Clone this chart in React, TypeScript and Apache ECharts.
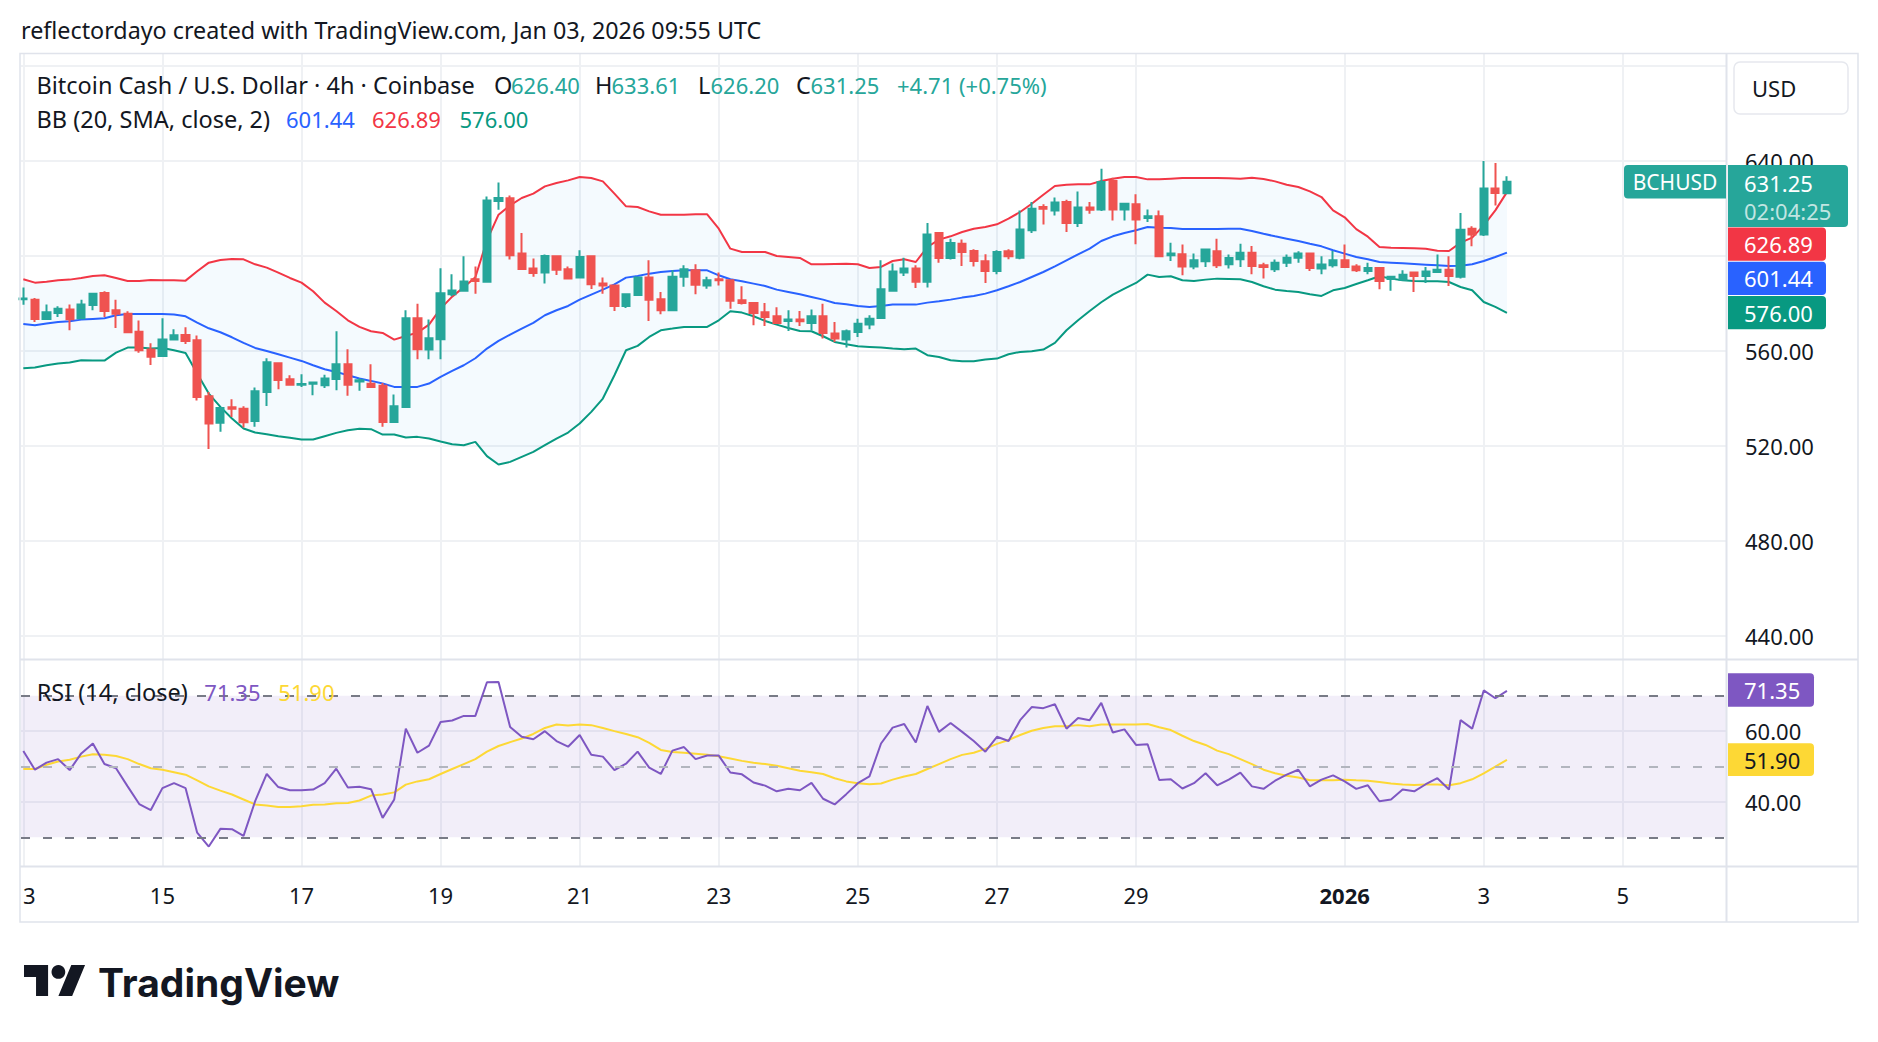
import React, { useEffect, useRef } from 'react';
import * as echarts from 'echarts';

// ---- 4h candles, Dec 13 00:00 UTC (index 0) .. Jan 3 08:00 UTC (index 128) ----
const OPEN = [
  581.8, 581.6, 573.5, 576.0, 577.5, 573.8, 579.4, 584.4, 577.1, 575.7,
  568.1, 560.6, 557.9, 564.8, 566.7, 564.5, 540.9, 529.7, 536.3, 535.6,
  530.5, 542.7, 554.8, 548.1, 545.8, 546.2, 545.5, 548.2, 554.4, 547.1,
  546.2, 545.3, 530.1, 536.4, 573.8, 560.6, 564.9, 583.9, 585.3, 590.2,
  589.1, 623.2, 624.3, 601.0, 594.7, 593.0, 599.9, 594.4, 590.9, 599.9,
  588.4, 587.6, 578.9, 583.6, 590.9, 581.8, 577.1, 591.2, 594.0, 587.6,
  590.2, 589.8, 581.3, 580.2, 576.3, 574.6, 572.6, 573.2, 571.8, 574.6,
  567.3, 564.8, 568.0, 571.1, 573.9, 585.3, 593.0, 594.7, 589.1, 609.7,
  599.2, 605.2, 602.1, 597.8, 593.7, 602.0, 599.3, 610.8, 620.6, 619.2,
  622.7, 613.9, 620.4, 619.6, 631.6, 619.6, 621.8, 616.0, 616.7, 600.3,
  600.7, 595.6, 597.8, 602.0, 596.5, 598.6, 601.4, 596.1, 594.4, 597.1,
  599.3, 601.0, 594.7, 596.1, 598.2, 595.6, 593.7, 594.9, 590.3, 590.0,
  593.0, 591.6, 593.3, 594.2, 591.2, 611.5, 609.1, 628.4, 626.4,
];
const HIGH = [
  586.7, 582.3, 579.6, 578.8, 579.6, 581.6, 584.3, 585.1, 581.6, 576.7,
  572.8, 563.2, 573.8, 569.1, 570.0, 566.5, 542.7, 536.0, 539.6, 536.7,
  544.6, 556.9, 554.9, 549.8, 550.2, 546.8, 550.0, 568.3, 560.7, 548.5,
  554.4, 546.5, 541.6, 577.1, 579.9, 573.2, 594.8, 592.3, 599.9, 595.6,
  625.1, 631.0, 625.5, 609.7, 598.9, 600.6, 600.3, 595.6, 602.4, 600.3,
  590.9, 587.7, 584.1, 591.0, 598.2, 584.8, 594.0, 596.1, 596.5, 591.2,
  593.0, 589.9, 587.2, 580.6, 580.2, 578.4, 577.1, 576.8, 577.4, 579.9,
  572.2, 569.0, 573.6, 575.0, 598.2, 596.8, 599.3, 596.1, 613.9, 610.1,
  607.3, 606.9, 602.8, 600.7, 602.4, 602.8, 619.2, 622.7, 621.8, 624.6,
  623.7, 627.2, 622.7, 636.8, 633.0, 622.1, 626.0, 619.6, 619.2, 605.6,
  604.8, 601.0, 603.1, 607.3, 600.6, 605.2, 604.2, 597.2, 598.5, 600.6,
  602.0, 601.4, 599.9, 602.1, 604.8, 596.5, 597.2, 595.0, 591.3, 594.0,
  593.1, 595.4, 600.6, 599.9, 618.1, 612.5, 640.0, 639.2, 633.61,
];
const LOW = [
  579.5, 572.2, 573.3, 574.3, 568.7, 573.5, 577.1, 574.3, 569.7, 567.6,
  559.2, 554.1, 557.9, 564.8, 562.9, 539.1, 518.7, 525.9, 532.2, 527.7,
  528.0, 536.8, 543.9, 545.3, 544.8, 541.3, 544.4, 543.4, 541.1, 543.2,
  544.6, 528.0, 530.0, 536.2, 556.5, 556.5, 556.5, 583.0, 585.2, 584.1,
  589.0, 619.5, 598.5, 594.4, 591.2, 588.4, 592.0, 590.4, 590.8, 586.1,
  584.1, 576.8, 578.1, 583.5, 572.6, 575.4, 577.0, 587.0, 583.9, 586.2,
  587.6, 577.8, 579.6, 570.8, 570.5, 571.7, 568.4, 570.5, 568.7, 565.2,
  563.8, 561.4, 565.9, 569.1, 573.8, 585.2, 591.6, 586.5, 586.7, 597.1,
  598.5, 595.8, 595.6, 588.6, 592.3, 598.6, 598.6, 609.7, 613.3, 617.1,
  610.1, 612.2, 617.8, 618.9, 615.0, 615.0, 604.9, 614.3, 599.8, 597.9,
  591.9, 594.4, 595.4, 594.9, 594.7, 595.4, 592.3, 590.5, 593.3, 595.4,
  597.1, 593.7, 592.3, 595.1, 595.3, 593.3, 592.3, 586.0, 585.3, 589.9,
  584.8, 588.6, 592.8, 587.4, 590.5, 604.1, 608.4, 621.3, 626.2,
];
const CLOSE = [
  582.1, 573.5, 576.3, 577.8, 573.3, 579.6, 584.1, 576.8, 575.7, 567.9,
  560.3, 557.5, 564.8, 566.6, 564.2, 540.6, 529.4, 535.9, 535.6, 530.0,
  543.0, 555.2, 547.8, 545.7, 546.1, 546.7, 548.4, 554.4, 545.7, 547.6,
  544.8, 530.1, 536.7, 573.8, 560.7, 565.3, 584.3, 585.5, 589.3, 589.5,
  623.4, 624.4, 600.3, 594.5, 592.8, 600.0, 594.2, 590.5, 599.6, 588.1,
  587.6, 578.9, 583.9, 590.9, 581.6, 577.1, 591.2, 594.4, 587.9, 589.8,
  589.8, 581.1, 580.2, 576.0, 574.3, 571.8, 573.2, 572.5, 574.6, 567.6,
  565.2, 568.3, 571.5, 573.6, 586.0, 593.5, 594.7, 589.1, 609.1, 599.2,
  605.5, 601.7, 597.9, 593.7, 601.7, 599.9, 611.2, 619.9, 619.9, 622.5,
  613.9, 620.4, 619.5, 631.2, 619.6, 622.0, 615.4, 616.7, 599.9, 601.0,
  595.6, 598.2, 602.7, 596.1, 599.2, 601.4, 595.8, 595.4, 597.2, 599.3,
  601.0, 594.9, 596.4, 598.2, 595.4, 594.0, 594.9, 589.5, 591.2, 592.1,
  591.6, 593.5, 594.2, 591.6, 611.1, 609.1, 628.4, 626.54, 631.25,
];

// ---- Bollinger Bands (20, SMA, close, 2) ----
const BB_UPPER = [
  590.18, 588.77, 589.19, 589.75, 590.04, 590.74, 591.58, 591.86, 590.74, 589.47,
  589.47, 589.89, 589.75, 589.75, 589.61, 593.54, 597.19, 598.32, 598.74, 598.6,
  596.49, 595.09, 592.98, 590.74, 588.77, 585.12, 580.35, 576.84, 572.91, 570.11,
  568.28, 567.58, 564.77, 566.32, 567.72, 571.09, 577.82, 582.88, 586.81, 591.02,
  606.6, 617.4, 621.33, 624.42, 626.25, 629.33, 630.74, 631.86, 633.26, 632.84,
  631.44, 626.25, 620.91, 620.63, 618.81, 617.4, 617.4, 617.4, 617.54, 617.54,
  611.51, 603.09, 601.68, 601.68, 601.68, 600.0, 599.58, 599.16, 596.49, 596.49,
  596.63, 596.77, 596.49, 594.95, 595.37, 597.89, 598.6, 597.47, 603.79, 606.88,
  608.28, 610.11, 611.51, 612.21, 613.33, 615.72, 618.53, 622.03, 625.82, 629.47,
  630.03, 630.18, 630.18, 631.58, 632.56, 633.26, 633.26, 632.28, 632.28, 632.56,
  632.84, 632.84, 632.84, 632.84, 632.7, 632.56, 632.98, 632.42, 631.44, 630.03,
  629.05, 627.23, 624.84, 619.23, 616.3, 611.3, 608.14, 603.79, 603.51, 603.37,
  603.23, 603.09, 602.25, 602.11, 605.61, 607.72, 612.91, 619.23, 626.89,
];
const BB_MID = [
  571.37, 570.81, 571.51, 572.21, 572.49, 573.19, 573.47, 573.75, 575.02, 575.58,
  575.58, 575.58, 575.58, 575.3, 574.6, 571.93, 569.54, 567.86, 565.75, 563.37,
  561.26, 560.0, 558.6, 557.19, 555.79, 553.97, 552.28, 551.16, 549.75, 548.35,
  547.37, 546.25, 544.84, 544.84, 544.84, 546.25, 549.05, 551.58, 553.97, 556.91,
  560.98, 564.21, 566.88, 569.4, 571.79, 575.02, 577.12, 578.95, 581.61, 583.72,
  585.82, 588.07, 590.88, 591.58, 592.56, 593.26, 593.68, 593.96, 593.96, 593.96,
  591.86, 590.18, 589.33, 588.35, 587.37, 585.82, 584.84, 583.86, 582.74, 581.61,
  580.21, 579.65, 578.95, 578.53, 578.95, 579.51, 579.51, 579.51, 580.35, 580.91,
  581.61, 582.46, 583.16, 584.14, 585.54, 587.23, 589.05, 591.16, 593.26, 595.65,
  598.18, 600.7, 603.09, 606.32, 608.28, 609.68, 610.81, 612.21, 611.93, 611.79,
  611.37, 611.37, 611.37, 611.37, 611.51, 611.51, 610.53, 609.4, 608.28, 607.3,
  606.32, 605.19, 604.07, 602.39, 600.98, 599.58, 598.6, 597.47, 597.19, 596.91,
  596.63, 596.35, 596.07, 595.79, 595.93, 596.49, 597.89, 599.58, 601.44,
];
const BB_LOWER = [
  552.7, 552.98, 553.97, 554.67, 555.09, 556.07, 555.93, 555.93, 559.3, 561.4,
  561.4, 560.98, 561.26, 560.28, 559.16, 550.46, 542.04, 536.42, 531.51, 527.3,
  525.61, 524.91, 524.07, 523.37, 522.67, 522.67, 524.07, 525.47, 526.6, 527.16,
  527.02, 524.77, 524.77, 523.51, 523.79, 523.09, 521.82, 520.7, 520.28, 521.68,
  515.65, 512.14, 513.26, 515.37, 517.47, 520.28, 523.09, 525.61, 529.4, 534.32,
  539.93, 549.75, 560.28, 562.11, 565.89, 568.7, 569.4, 570.11, 570.11, 570.11,
  572.91, 576.7, 576.14, 574.6, 572.63, 571.09, 569.68, 568.42, 568.28, 566.18,
  563.79, 562.81, 561.97, 561.68, 561.4, 560.98, 560.7, 560.98, 558.18, 557.47,
  556.07, 555.65, 555.65, 556.35, 556.77, 558.6, 559.58, 559.86, 560.56, 563.37,
  568.7, 572.91, 576.84, 580.49, 583.72, 586.25, 588.63, 592.14, 591.16, 591.44,
  589.75, 589.47, 590.04, 590.46, 590.32, 590.18, 589.05, 587.23, 585.82, 585.26,
  584.84, 583.86, 583.16, 585.54, 586.53, 588.2, 589.75, 591.44, 590.46, 589.75,
  589.47, 589.33, 589.33, 589.05, 586.95, 585.54, 580.63, 578.53, 576.0,
];

// ---- RSI (14, close) and its moving average ----
const RSI = [
  54.4, 49.1, 51.1, 52.1, 49.0, 53.7, 56.5, 50.7, 49.5, 44.4,
  39.4, 37.7, 43.9, 45.3, 43.9, 31.3, 27.4, 32.4, 32.3, 30.4,
  40.2, 47.9, 44.2, 43.3, 43.3, 43.5, 45.3, 49.4, 44.1, 44.3,
  43.6, 35.5, 40.7, 60.7, 53.9, 55.9, 62.6, 63.0, 64.3, 64.3,
  73.8, 73.9, 61.2, 58.4, 57.7, 60.0, 57.2, 55.6, 58.9, 53.3,
  52.8, 49.0, 50.8, 54.2, 49.7, 47.9, 54.5, 55.5, 52.1, 53.1,
  53.1, 48.3, 47.8, 45.5, 44.6, 43.0, 43.7, 43.3, 45.4, 40.9,
  39.3, 42.2, 45.3, 47.2, 56.5, 61.0, 62.0, 56.8, 67.1, 59.8,
  62.3, 59.8, 57.2, 54.2, 58.4, 57.2, 63.1, 66.8, 66.5, 67.6,
  60.7, 63.7, 63.1, 68.0, 59.6, 60.5, 56.1, 56.3, 46.2, 46.4,
  43.8, 45.3, 48.1, 44.7, 46.3, 48.3, 44.4, 43.7, 46.0, 47.7,
  49.1, 44.4, 46.3, 47.5, 45.8, 43.7, 44.7, 40.2, 40.7, 43.5,
  43.0, 45.0, 46.7, 43.5, 63.1, 60.7, 71.5, 69.3, 71.35,
];
const RSI_MA = [
  49.3, 49.3, 50.5, 51.4, 51.9, 52.8, 53.5, 53.3, 53.0, 52.1,
  50.7, 49.5, 49.1, 48.4, 47.7, 46.1, 44.4, 43.2, 42.1, 40.7,
  39.3, 39.0, 38.6, 38.6, 38.8, 39.2, 39.3, 39.6, 39.7, 40.4,
  41.8, 42.1, 42.7, 44.9, 45.8, 46.4, 47.9, 49.3, 50.7, 52.1,
  54.2, 55.8, 56.9, 57.9, 59.2, 60.9, 61.9, 61.6, 61.9, 61.7,
  60.9, 60.0, 59.2, 58.3, 56.7, 54.7, 54.1, 53.9, 53.6, 53.3,
  52.9, 52.3, 51.6, 51.1, 50.7, 50.2, 49.5, 48.8, 48.4, 47.9,
  46.7, 45.8, 45.3, 45.0, 45.2, 46.3, 47.2, 47.9, 49.3, 50.7,
  52.1, 53.3, 53.9, 55.0, 56.4, 57.5, 58.9, 60.1, 60.9, 61.4,
  61.4, 61.7, 61.4, 61.9, 61.9, 61.9, 61.9, 62.0, 61.1, 60.3,
  58.7, 57.2, 56.1, 54.5, 53.5, 52.1, 50.7, 49.1, 48.1, 47.4,
  46.9, 46.1, 46.1, 46.1, 46.3, 46.1, 46.0, 45.6, 45.2, 44.9,
  44.8, 44.9, 44.9, 44.7, 45.3, 46.4, 48.1, 50.0, 51.9,
];

// ---- axes ----
const TIME_TICKS = [0, 12, 24, 36, 48, 60, 72, 84, 96, 114, 126, 138];
const TIME_LABELS = ['13', '15', '17', '19', '21', '23', '25', '27', '29', '2026', '3', '5'];
const PRICE_GRID = [440, 480, 520, 560, 600, 640, 680];
const PRICE_LABELS = [440, 480, 520, 560, 640];
const RSI_GRID = [40, 60];
const RSI_LEVELS = [70, 50, 30];

const FONT = "'Noto Sans', sans-serif";
const TEXT = '#131722';
const GRID_C = '#eff1f4';
const SEP_C = '#e0e3eb';
const UP = '#26a69a';
const DOWN = '#ef5350';
const X_MIN = -0.2;
const X_MAX = 146.9;
const LBL = 23.5; // size of word labels in the legends

const TV_LOGO = 'M14 22H7V11H0V4h14v18zM28 22h-8l7.5-18h8L28 22z';

function txt(text: string, x: number, y: number, fill: string, extra: any = {}) {
  return {
    type: 'text',
    x,
    y,
    z: 100,
    silent: true,
    style: {
      text,
      fill,
      fontSize: 22,
      fontFamily: FONT,
      verticalAlign: 'middle',
      align: 'left',
      ...extra,
    },
  };
}

function box(x: number, y: number, w: number, h: number, fill: string, r: any = [0, 4, 4, 0]) {
  return {
    type: 'rect',
    z: 99,
    silent: true,
    shape: { x, y, width: w, height: h, r },
    style: { fill },
  };
}

export default function App() {
  const ref = useRef<HTMLDivElement>(null);

  useEffect(() => {
    if (!ref.current) return;
    echarts.graphic.registerShape('tvlogo', echarts.graphic.extendPath(TV_LOGO, {}));
    const chart = echarts.init(ref.current, null, { renderer: 'svg' });

    const idx = (arr: number[]) => arr.map((v, i) => [i, v]);
    const candles = OPEN.map((o, i) => [i, o, CLOSE[i], LOW[i], HIGH[i]]);
    const N = BB_UPPER.length;

    const labelFmt = (v: number) => {
      const k = TIME_TICKS.indexOf(Math.round(v));
      if (k < 0) return '';
      const s = TIME_LABELS[k];
      if (s === '2026') return '{b|2026}';
      if (k === 0) return '{c|3}';
      return s;
    };

    const option: any = {
      animation: false,
      backgroundColor: '#ffffff',
      grid: [
        { left: 21, right: 152, top: 54, height: 605 },
        { left: 21, right: 152, top: 660, height: 206 },
      ],
      xAxis: [
        {
          type: 'value',
          gridIndex: 0,
          min: X_MIN,
          max: X_MAX,
          axisLine: { show: false },
          axisTick: { show: false, customValues: TIME_TICKS },
          axisLabel: { show: false },
          splitLine: { show: true, lineStyle: { color: GRID_C, width: 2 } },
        },
        {
          type: 'value',
          gridIndex: 1,
          min: X_MIN,
          max: X_MAX,
          axisLine: { show: false },
          axisTick: { show: false, customValues: TIME_TICKS },
          axisLabel: {
            show: true,
            customValues: TIME_TICKS,
            formatter: labelFmt,
            margin: 18,
            fontSize: 22,
            color: TEXT,
            fontFamily: FONT,
            rich: {
              b: { fontSize: 22, fontWeight: 'bold', color: TEXT, fontFamily: FONT },
              c: { fontSize: 22, color: TEXT, fontFamily: FONT, padding: [0, 0, 0, 12] },
            },
          },
          splitLine: { show: true, lineStyle: { color: GRID_C, width: 2 } },
        },
      ],
      yAxis: [
        {
          type: 'value',
          gridIndex: 0,
          position: 'right',
          min: 430.2,
          max: 685.1,
          axisLine: { show: false },
          axisTick: { show: false, customValues: PRICE_GRID },
          axisLabel: {
            customValues: PRICE_LABELS,
            formatter: (v: number) => v.toFixed(2),
            align: 'left',
            margin: 19,
            fontSize: 22,
            color: TEXT,
            fontFamily: FONT,
          },
          splitLine: { show: true, lineStyle: { color: GRID_C, width: 2 } },
        },
        {
          type: 'value',
          gridIndex: 1,
          position: 'right',
          min: 21.9,
          max: 80.1,
          axisLine: { show: false },
          axisTick: { show: false, customValues: RSI_GRID },
          axisLabel: {
            customValues: RSI_GRID,
            formatter: (v: number) => v.toFixed(2),
            align: 'left',
            margin: 19,
            fontSize: 22,
            color: TEXT,
            fontFamily: FONT,
          },
          splitLine: { show: true, lineStyle: { color: GRID_C, width: 2 } },
        },
      ],
      series: [
        {
          type: 'custom',
          name: 'BB band',
          xAxisIndex: 0,
          yAxisIndex: 0,
          silent: true,
          z: 1,
          data: idx(BB_UPPER),
          encode: { x: 0, y: 1 },
          renderItem: (params: any, api: any) => {
            if (params.dataIndex !== 0) return null;
            const pts: number[][] = [];
            for (let i = 0; i < N; i++) pts.push(api.coord([i, BB_UPPER[i]]));
            for (let i = N - 1; i >= 0; i--) pts.push(api.coord([i, BB_LOWER[i]]));
            return {
              type: 'polygon',
              shape: { points: pts },
              style: { fill: 'rgba(33,150,243,0.05)' },
            };
          },
        },
        {
          type: 'line', name: 'BB upper', xAxisIndex: 0, yAxisIndex: 0, z: 3,
          data: idx(BB_UPPER), symbol: 'none', silent: true,
          lineStyle: { color: '#f23645', width: 2 },
        },
        {
          type: 'line', name: 'BB basis', xAxisIndex: 0, yAxisIndex: 0, z: 3,
          data: idx(BB_MID), symbol: 'none', silent: true,
          lineStyle: { color: '#2962ff', width: 2 },
        },
        {
          type: 'line', name: 'BB lower', xAxisIndex: 0, yAxisIndex: 0, z: 3,
          data: idx(BB_LOWER), symbol: 'none', silent: true,
          lineStyle: { color: '#089981', width: 2 },
        },
        {
          type: 'candlestick',
          name: 'BCHUSD',
          xAxisIndex: 0,
          yAxisIndex: 0,
          z: 5,
          data: candles,
          encode: { x: 0, y: [1, 2, 3, 4] },
          barWidth: 7.7,
          silent: true,
          itemStyle: {
            color: UP,
            color0: DOWN,
            borderColor: UP,
            borderColor0: DOWN,
            borderWidth: 2,
          },
        },
        {
          type: 'line',
          name: 'RSI',
          xAxisIndex: 1,
          yAxisIndex: 1,
          z: 4,
          data: idx(RSI),
          symbol: 'none',
          silent: true,
          lineStyle: { color: '#7e57c2', width: 2 },
          markArea: {
            silent: true,
            itemStyle: { color: 'rgba(126,87,194,0.1)' },
            data: [[{ xAxis: X_MIN, yAxis: 30 }, { xAxis: X_MAX, yAxis: 70 }]],
          },
          markLine: {
            silent: true,
            symbol: ['none', 'none'],
            label: { show: false },
            lineStyle: { color: '#787b86', width: 2, type: [9, 13] },
            data: RSI_LEVELS.map((v) =>
              v === 50
                ? { yAxis: v, lineStyle: { color: '#b2b5be', width: 2, type: [9, 13] } }
                : { yAxis: v }
            ),
          },
        },
        {
          type: 'line',
          name: 'RSI MA',
          xAxisIndex: 1,
          yAxisIndex: 1,
          z: 3,
          data: idx(RSI_MA),
          symbol: 'none',
          silent: true,
          lineStyle: { color: '#fdd835', width: 2 },
        },
      ],
      graphic: [
        // title
        txt('reflectordayo created with TradingView.com, Jan 03, 2026 09:55 UTC', 21, 30, TEXT, { fontSize: 23.3 }),
        // frame and separators
        {
          type: 'rect', z: 98, silent: true,
          shape: { x: 20, y: 53.5, width: 1838, height: 868.5 },
          style: { fill: 'none', stroke: SEP_C, lineWidth: 1.5 },
        },
        {
          type: 'line', z: 98, silent: true,
          shape: { x1: 1726.5, y1: 53.5, x2: 1726.5, y2: 922 },
          style: { stroke: SEP_C, lineWidth: 2 },
        },
        {
          type: 'line', z: 98, silent: true,
          shape: { x1: 20, y1: 659.5, x2: 1858, y2: 659.5 },
          style: { stroke: SEP_C, lineWidth: 2 },
        },
        {
          type: 'line', z: 98, silent: true,
          shape: { x1: 20, y1: 866.5, x2: 1858, y2: 866.5 },
          style: { stroke: SEP_C, lineWidth: 2 },
        },
        // legend line 1
        txt('Bitcoin Cash / U.S. Dollar · 4h · Coinbase', 36.5, 85, TEXT, { fontSize: LBL }),
        txt('O', 494, 85, TEXT, { fontSize: LBL }),
        txt('626.40', 511, 85, UP),
        txt('H', 595, 85, TEXT, { fontSize: LBL }),
        txt('633.61', 611.5, 85, UP),
        txt('L', 698, 85, TEXT, { fontSize: LBL }),
        txt('626.20', 710.5, 85, UP),
        txt('C', 796, 85, TEXT, { fontSize: LBL }),
        txt('631.25', 810.5, 85, UP),
        txt('+4.71 (+0.75%)', 897, 85, UP),
        // legend line 2
        txt('BB (20, SMA, close, 2)', 36.5, 118.6, TEXT, { fontSize: LBL }),
        txt('601.44', 286, 118.6, '#2962ff'),
        txt('626.89', 372, 118.6, '#f23645'),
        txt('576.00', 459.5, 118.6, '#089981'),
        // RSI legend
        txt('RSI (14, close)', 36.7, 692, TEXT, { fontSize: LBL }),
        txt('71.35', 204.3, 692, '#7e57c2'),
        txt('51.90', 278.3, 692, '#fdd835'),
        // USD button
        {
          type: 'rect', z: 99, silent: true,
          shape: { x: 1734, y: 62, width: 114, height: 52, r: 6 },
          style: { fill: '#ffffff', stroke: '#e6e8ee', lineWidth: 1.5 },
        },
        txt('USD', 1752, 88, TEXT),
        // symbol tag and price labels
        box(1624, 165, 102, 33.5, UP, [4, 0, 0, 4]),
        txt('BCHUSD', 1632.7, 182, '#ffffff', { fontSize: 21 }),
        box(1728, 165, 120, 62, UP),
        txt('631.25', 1744, 183.3, '#ffffff'),
        txt('02:04:25', 1744, 211, 'rgba(255,255,255,0.72)'),
        box(1728, 227.5, 98, 33.2, '#f23645'),
        txt('626.89', 1744, 244.1, '#ffffff'),
        box(1728, 261.7, 98, 33.3, '#2962ff'),
        txt('601.44', 1744, 278.3, '#ffffff'),
        box(1728, 296, 98, 33.3, '#089981'),
        txt('576.00', 1744, 312.7, '#ffffff'),
        box(1728, 673.3, 86, 33.4, '#7e57c2'),
        txt('71.35', 1744, 690, '#ffffff'),
        box(1728, 743.3, 86, 32.7, '#fdd835'),
        txt('51.90', 1744, 759.7, TEXT),
        // TradingView logo
        {
          type: 'tvlogo', z: 100, silent: true,
          x: 24, y: 958.2, scaleX: 1.72, scaleY: 1.72,
          style: { fill: TEXT },
        },
        {
          type: 'circle', z: 100, silent: true,
          shape: { cx: 24 + 20 * 1.72, cy: 958.2 + 8 * 1.72, r: 4 * 1.72 },
          style: { fill: TEXT },
        },
        txt('TradingView', 98, 982, TEXT, { fontSize: 39, fontWeight: 'bold', fontFamily: "Inter, 'Noto Sans', sans-serif" }),
      ],
    };

    chart.setOption(option);
    return () => chart.dispose();
  }, []);

  return (
    <div
      ref={ref}
      style={{ position: 'fixed', left: 0, top: 0, width: 1878, height: 1042, background: '#ffffff' }}
    />
  );
}
